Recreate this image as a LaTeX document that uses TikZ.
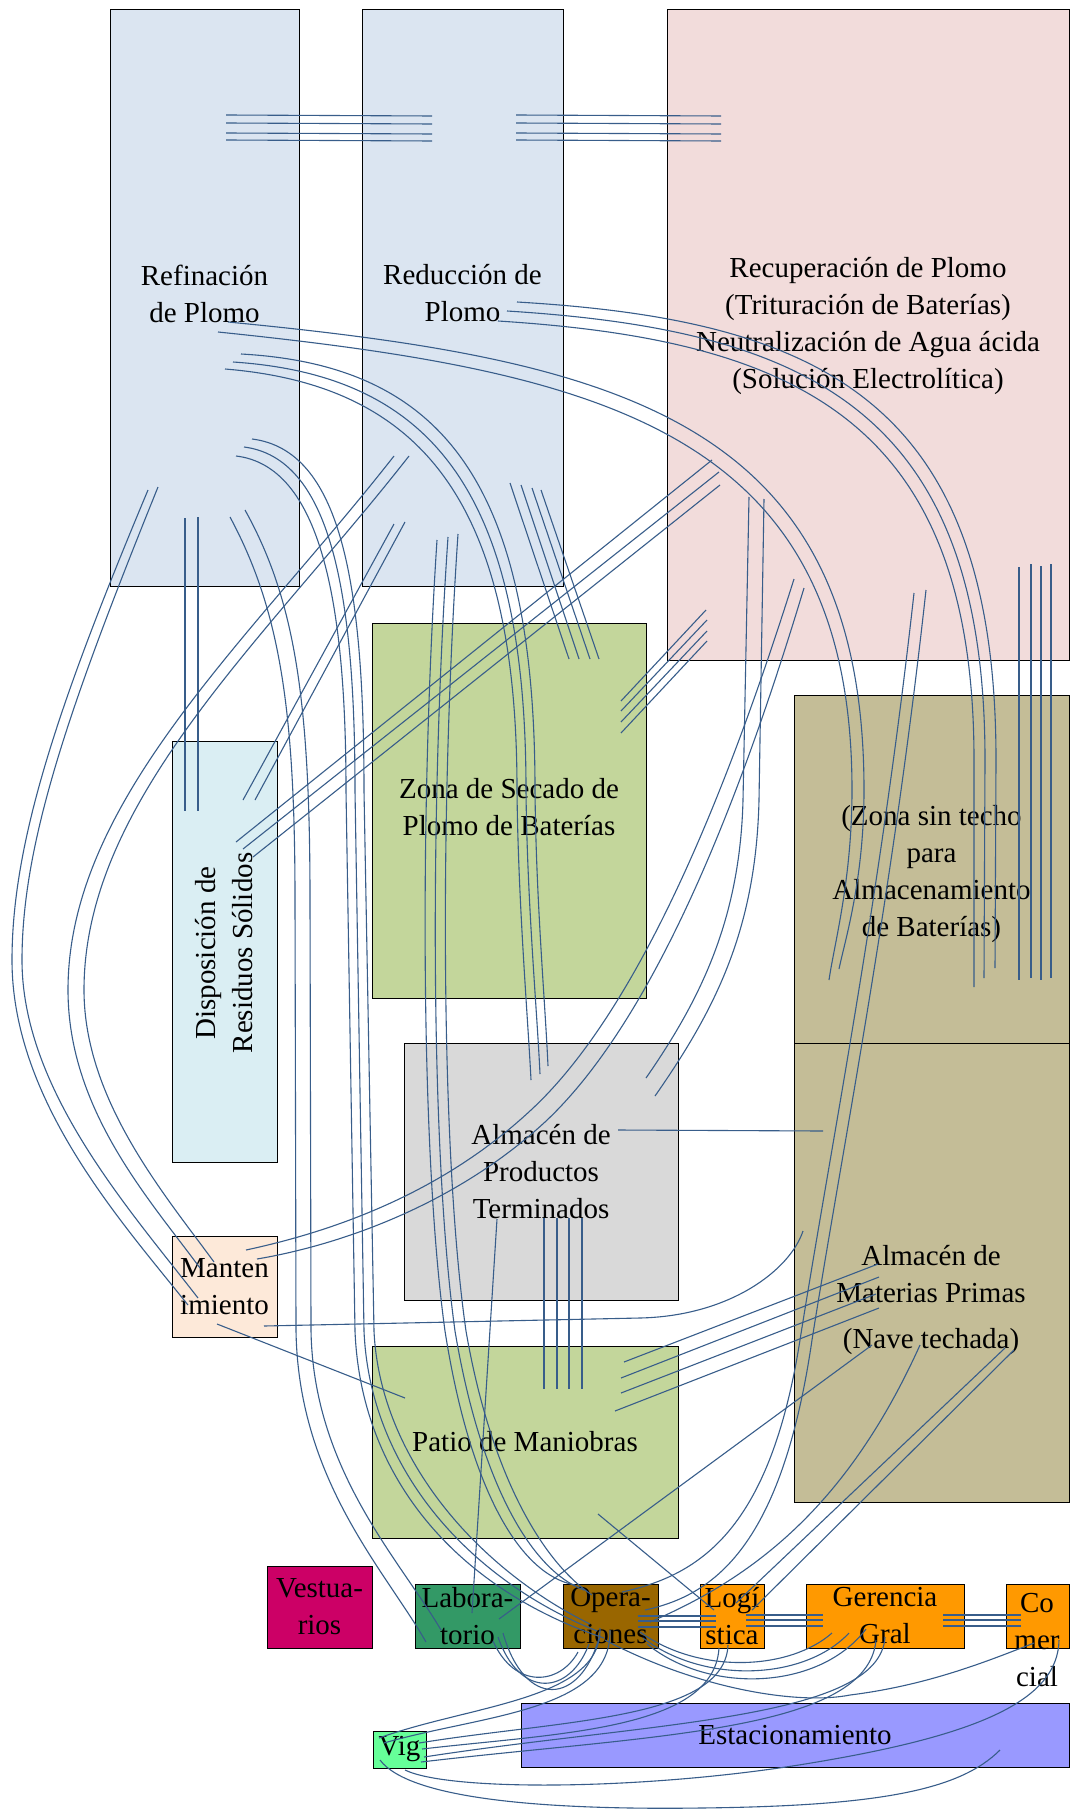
\documentclass[tikz,border=0pt]{standalone}
\usepackage{fontspec}
\setmainfont{Liberation Serif}
\definecolor{lc}{RGB}{56,93,138}
\definecolor{cblue}{HTML}{DBE5F1}
\definecolor{cpink}{HTML}{F2DCDB}
\definecolor{ccyan}{HTML}{DAEEF3}
\definecolor{cgreen}{HTML}{C3D69B}
\definecolor{ckhaki}{HTML}{C4BD97}
\definecolor{cgray}{HTML}{D9D9D9}
\definecolor{cpeach}{HTML}{FDE9D9}
\definecolor{cmag}{HTML}{CC0066}
\definecolor{cdgreen}{HTML}{339966}
\definecolor{cbrown}{HTML}{996600}
\definecolor{corange}{HTML}{FF9900}
\definecolor{clgreen}{HTML}{66FF99}
\definecolor{cviolet}{HTML}{9999FF}
\begin{document}
\begin{tikzpicture}[x=1pt,y=-1pt,
  box/.style={draw=black, line width=0.9pt, inner sep=0pt, align=center, font=\fontsize{29}{37}\selectfont},
  txt/.style={inner sep=0pt, align=center, font=\fontsize{29}{37}\selectfont},
  ln/.style={draw=lc, line width=1.1pt}]
\useasboundingbox (0,0) rectangle (1071,1811);
\fill[white] (0,0) rectangle (1071,1811);
% boxes
\node[box, fill=cblue, minimum width=189pt, minimum height=577pt] (refin) at (204.5,297.5) {};
\node[txt] (trefin) at (204.5,293.5) {Refinación\\de Plomo};
\node[box, fill=cblue, minimum width=201pt, minimum height=577pt] (reduc) at (462.5,297.5) {};
\node[txt] (treduc) at (462.5,293.5) {Reducción de\\Plomo};
\node[box, fill=cpink, minimum width=402pt, minimum height=651pt] (recup) at (868,334.5) {};
\node[txt] (trecup) at (868,326) {Recuperación de Plomo\\(Trituración de Baterías)\\Neutralización de Agua ácida\\(Solución Electrolítica)};
\node[box, fill=ccyan, minimum width=105pt, minimum height=421pt] (dispo) at (224.5,951.5) {};
\node[txt, rotate=90] (tdispo) at (224.5,953) {Disposición de\\Residuos Sólidos};
\node[box, fill=cgreen, minimum width=274pt, minimum height=375pt] (secado) at (509,810.5) {};
\node[txt] (tsecado) at (509,807) {Zona de Secado de\\Plomo de Baterías};
\node[box, fill=ckhaki, minimum width=275pt, minimum height=348pt] (sintecho) at (931.5,869) {};
\node[txt] (tsintecho) at (931.5,874) {(Zona sin techo\\para\\Almacenamiento\\de Baterías)};
\node[box, fill=ckhaki, minimum width=275pt, minimum height=459pt] (matprim) at (931.5,1272.5) {};
\node[txt] (tmatprim) at (931,1300) {Almacén de\\Materias Primas\\[9pt](Nave techada)};
\node[box, fill=cgray, minimum width=274pt, minimum height=257pt] (prodterm) at (541,1171.5) {Almacén de\\Productos\\Terminados};
\node[box, fill=cpeach, minimum width=105pt, minimum height=101pt] (manten) at (224.5,1286.5) {Manten\\imiento};
\node[box, fill=cgreen, minimum width=306pt, minimum height=192pt] (patio) at (525,1442) {Patio de Maniobras};
\node[box, fill=cmag, minimum width=105pt, minimum height=82pt] (vestua) at (319.5,1607) {Vestua-\\rios};
\node[box, fill=cdgreen, minimum width=105pt, minimum height=64pt] (labor) at (467.5,1616) {Labora-\\torio};
\node[box, fill=cbrown, minimum width=95pt, minimum height=64pt] (opera) at (610.5,1616) {Opera-\\ciones};
\node[box, fill=corange, minimum width=64pt, minimum height=64pt] (logis) at (732,1616) {Logí\\stica};
\node[box, fill=corange, minimum width=158pt, minimum height=64pt] (geren) at (885,1616) {Gerencia\\Gral};
\node[box, fill=corange, minimum width=63pt, minimum height=64pt] (comer) at (1037.5,1616) {};
\node[txt] (tcomer) at (1037,1640) {Co\\mer\\cial};
\node[box, fill=clgreen, minimum width=53pt, minimum height=37pt] (vig) at (399.5,1749.5) {Vig};
\node[box, fill=cviolet, minimum width=548pt, minimum height=64pt] (estac) at (795,1735) {Estacionamiento};

% top horizontal bundles
\foreach \y in {115,123,133,140} {
  \draw[ln] (226,\y) -- (432,\y+1);
  \draw[ln] (516,\y) -- (721,\y+1);
}
% Refinacion pair -> zona sin techo
\draw[ln] (228,322) .. controls (620,360) and (864,420) .. (864,790) .. controls (864,880) and (845,940) .. (839,969);
\draw[ln] (218,332) .. controls (605,372) and (852,432) .. (852,790) .. controls (852,880) and (834,945) .. (829,980);
% Reduccion triple -> zona sin techo
\draw[ln] (517,302) .. controls (820,320) and (996,400) .. (996,760) -- (995,968);
\draw[ln] (507,311) .. controls (808,330) and (985,410) .. (985,760) -- (984,978);
\draw[ln] (498,321) .. controls (796,340) and (974,420) .. (974,760) -- (974,987);
% Refinacion triple -> productos terminados
\draw[ln] (241,354) .. controls (440,365) and (535,480) .. (535,790) .. controls (536,900) and (545,1000) .. (548,1066);
\draw[ln] (233,362) .. controls (430,375) and (526,490) .. (526,790) .. controls (527,900) and (537,1010) .. (540,1074);
\draw[ln] (225,369) .. controls (420,385) and (517,500) .. (517,790) .. controls (518,900) and (528,1020) .. (531,1080);
% Refinacion triple -> operaciones
\draw[ln] (252,439) .. controls (340,450) and (364,580) .. (364,791) -- (374,1331) .. controls (380,1460) and (480,1570) .. (590,1624);
\draw[ln] (244,447) .. controls (330,458) and (355,590) .. (355,791) -- (364,1331) .. controls (370,1470) and (470,1580) .. (597,1631);
\draw[ln] (236,456) .. controls (320,466) and (346,600) .. (346,791) -- (355,1331) .. controls (361,1480) and (460,1590) .. (604,1638);
% Refinacion pair -> laboratorio
\draw[ln] (245,510) .. controls (295,600) and (310,700) .. (310,900) -- (311,1330) .. controls (313,1470) and (400,1560) .. (441,1630);
\draw[ln] (230,517) .. controls (280,610) and (295,710) .. (295,900) -- (296,1330) .. controls (298,1480) and (385,1570) .. (426,1642);
% Refinacion pair -> mantenimiento (outer)
\draw[ln] (148,490) .. controls (60,700) and (12,840) .. (12,960) .. controls (12,1100) and (120,1220) .. (188,1305);
\draw[ln] (158,487) .. controls (72,700) and (22,840) .. (22,960) .. controls (22,1090) and (130,1210) .. (198,1298);
% Reduccion pair -> mantenimiento
\draw[ln] (394,456) .. controls (250,640) and (68,800) .. (68,990) .. controls (68,1110) and (150,1200) .. (200,1268);
\draw[ln] (409,456) .. controls (265,640) and (84,800) .. (84,990) .. controls (84,1100) and (165,1195) .. (214,1262);
% Reduccion triple -> operaciones
\draw[ln] (458,534) .. controls (440,800) and (440,1150) .. (466,1331) .. controls (490,1470) and (540,1560) .. (592,1595);
\draw[ln] (448,537) .. controls (430,800) and (430,1150) .. (455,1331) .. controls (480,1480) and (530,1570) .. (584,1590);
\draw[ln] (437,540) .. controls (420,800) and (420,1150) .. (445,1331) .. controls (470,1490) and (520,1575) .. (575,1585);
% Reduccion pair -> disposicion
\draw[ln] (394,524) -- (243,800);
\draw[ln] (405,522) -- (255,800);
% Reduccion 4 -> secado
\draw[ln] (510,483) -- (569,659);
\draw[ln] (521,485) -- (579,659);
\draw[ln] (532,488) -- (590,659);
\draw[ln] (541,490) -- (599,659);
% Refinacion verticals -> disposicion
\draw[ln] (185,518) -- (185,811);
\draw[ln] (198,517) -- (198,811);
% Recuperacion -> disposicion
\draw[ln] (712,460) -- (236,842);
\draw[ln] (719,472) -- (243,849);
\draw[ln] (720,485) -- (253,857);
% Recuperacion -> secado (short)
\draw[ln] (706,610) -- (621,701);
\draw[ln] (707,620) -- (621,711);
\draw[ln] (707,631) -- (621,722);
\draw[ln] (707,641) -- (621,733);
% Recuperacion -> productos terminados
\draw[ln] (749,497) -- (743,800) .. controls (740,920) and (700,1000) .. (646,1078);
\draw[ln] (764,499) -- (759,800) .. controls (756,930) and (715,1010) .. (655,1096);
% Recuperacion -> mantenimiento
\draw[ln] (794,579) .. controls (740,750) and (650,1000) .. (531,1110) .. controls (440,1195) and (330,1232) .. (246,1250);
\draw[ln] (804,588) .. controls (752,760) and (665,1010) .. (545,1122) .. controls (455,1205) and (340,1245) .. (257,1259);
% Recuperacion -> operaciones
\draw[ln] (914,593) .. controls (880,900) and (830,1150) .. (800,1340) .. controls (770,1530) and (700,1575) .. (622,1592);
\draw[ln] (926,590) .. controls (892,900) and (842,1150) .. (812,1340) .. controls (782,1545) and (715,1595) .. (645,1610);
% Recuperacion -> zona sin techo verticals
\draw[ln] (1019,567) -- (1019,980);
\draw[ln] (1031,564) -- (1031,978);
\draw[ln] (1041,566) -- (1041,980);
\draw[ln] (1051,564) -- (1051,978);
% Materias primas lines
\draw[ln] (872,1345) -- (499,1619);
\draw[ln] (920,1345) .. controls (850,1500) and (760,1575) .. (650,1622);
\draw[ln] (1005,1348) -- (736,1603);
\draw[ln] (1014,1350) -- (752,1610);
\draw[ln] (878,1264) -- (624,1362);
\draw[ln] (879,1277) -- (621,1378);
\draw[ln] (876,1294) -- (621,1393);
\draw[ln] (879,1308) -- (615,1411);
% patio -> logistica
\draw[ln] (598,1514) -- (714,1610);
% mantenimiento lines
\draw[ln] (217,1324) -- (405,1398);
\draw[ln] (264,1326) -- (640,1318) .. controls (730,1316) and (790,1270) .. (803,1231);
% productos terminados lines
\draw[ln] (618,1130) -- (823,1131);
\draw[ln] (497,1219) -- (472,1613);
\foreach \x in {544,557,569,582} \draw[ln] (\x,1218) -- (\x,1389);
% bottom row horizontals
\foreach \y in {1616,1621,1627} \draw[ln] (638,\y) -- (716,\y);
\foreach \y in {1615,1620,1626} {
  \draw[ln] (746,\y) -- (823,\y);
  \draw[ln] (943,\y) -- (1021,\y);
}
% laboratorio <-> operaciones
\draw[ln] (493,1641) .. controls (515,1690) and (560,1685) .. (578,1652);
\draw[ln] (498,1637) .. controls (520,1700) and (570,1695) .. (589,1644);
\draw[ln] (503,1633) .. controls (525,1710) and (580,1705) .. (599,1638);
% operaciones -> gerencia
\draw[ln] (640,1632) .. controls (700,1675) and (790,1670) .. (832,1633);
\draw[ln] (643,1638) .. controls (705,1685) and (805,1680) .. (849,1633);
\draw[ln] (647,1644) .. controls (710,1695) and (820,1690) .. (866,1629);
% operaciones -> comercial
\draw[ln] (605,1640) .. controls (700,1690) and (800,1705) .. (850,1695) .. controls (930,1685) and (990,1660) .. (1034,1643);
% -> vigilancia
\draw[ln] (600,1628) .. controls (602,1700) and (470,1705) .. (379,1738);
\draw[ln] (610,1630) .. controls (612,1712) and (480,1715) .. (384,1743);
\draw[ln] (728,1645) .. controls (725,1720) and (560,1720) .. (419,1743);
\draw[ln] (719,1648) .. controls (714,1730) and (560,1733) .. (422,1749);
\draw[ln] (885,1637) .. controls (880,1720) and (650,1722) .. (424,1757);
\draw[ln] (876,1640) .. controls (868,1732) and (650,1735) .. (421,1762);
\draw[ln] (1059,1640) .. controls (1058,1700) and (980,1735) .. (811,1763) .. controls (650,1790) and (450,1792) .. (405,1770);
\draw[ln] (1000,1750) .. controls (960,1790) and (880,1806) .. (700,1808) .. controls (550,1810) and (410,1800) .. (380,1760);
\end{tikzpicture}
\end{document}
